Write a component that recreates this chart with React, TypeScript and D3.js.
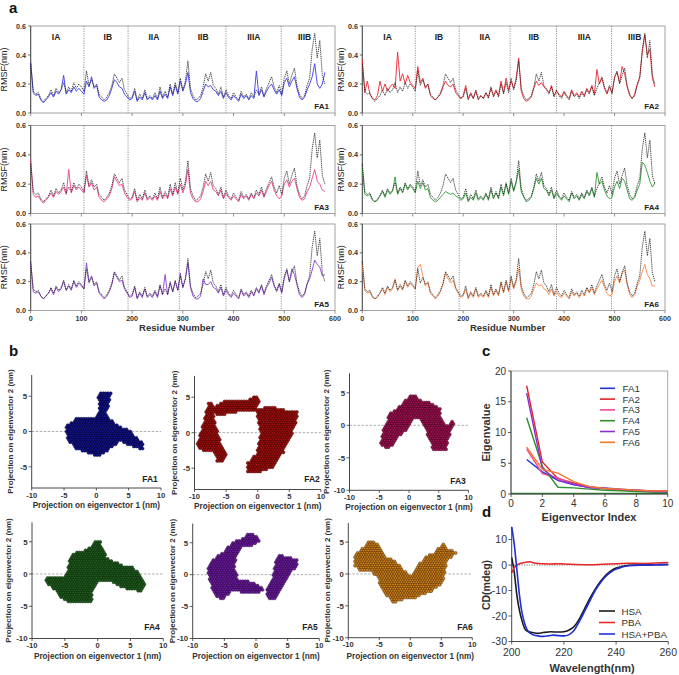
import React from "react";
import * as d3 from "d3";

const FONT = "'Liberation Sans', Arial, Helvetica, sans-serif";

// ---------- Panel a data ----------
const RESIDUE_STEP = 5;
const RESIDUE_TICKS = [0, 100, 200, 300, 400, 500, 600];
const RMSF_TICKS = [0, 0.2, 0.4, 0.6];
const DOMAIN_BOUNDS = [105, 192, 293, 385, 494];
const DOMAIN_NAMES = ["IA", "IB", "IIA", "IIB", "IIIA", "IIIB"];
const DOMAIN_CENTERS = [50, 152, 243, 340, 440, 540];

const RMSF_REF = [
  0.34,0.15,0.13,0.14,0.10,0.08,0.10,0.12,0.16,0.12,
  0.17,0.14,0.16,0.21,0.14,0.18,0.15,0.21,0.17,0.20,
  0.18,0.15,0.29,0.19,0.23,0.18,0.20,0.13,0.11,0.09,
  0.11,0.14,0.19,0.27,0.24,0.21,0.24,0.16,0.13,0.10,
  0.11,0.17,0.09,0.13,0.10,0.16,0.10,0.12,0.10,0.14,
  0.10,0.18,0.11,0.15,0.11,0.20,0.13,0.21,0.14,0.24,
  0.16,0.22,0.36,0.17,0.12,0.09,0.10,0.12,0.18,0.27,
  0.22,0.28,0.19,0.17,0.13,0.18,0.11,0.16,0.12,0.10,
  0.14,0.11,0.09,0.15,0.11,0.13,0.10,0.14,0.11,0.16,
  0.13,0.18,0.12,0.17,0.21,0.25,0.18,0.14,0.19,0.13,
  0.24,0.29,0.20,0.26,0.31,0.19,0.13,0.10,0.12,0.19,
  0.24,0.44,0.55,0.38,0.50,0.26,0.20,
];
const RMSF_FA1 = [
  0.35,0.14,0.12,0.13,0.09,0.07,0.09,0.11,0.14,0.11,
  0.15,0.13,0.16,0.26,0.13,0.16,0.14,0.18,0.15,0.17,
  0.15,0.13,0.22,0.18,0.25,0.17,0.19,0.11,0.09,0.08,
  0.09,0.12,0.17,0.23,0.21,0.18,0.17,0.13,0.11,0.09,
  0.10,0.15,0.08,0.11,0.09,0.14,0.09,0.11,0.09,0.12,
  0.09,0.15,0.10,0.13,0.10,0.18,0.12,0.19,0.13,0.22,
  0.15,0.20,0.28,0.14,0.10,0.08,0.08,0.10,0.15,0.20,
  0.18,0.19,0.16,0.15,0.12,0.15,0.10,0.14,0.11,0.09,
  0.12,0.10,0.08,0.13,0.10,0.12,0.09,0.12,0.10,0.29,
  0.12,0.16,0.11,0.15,0.18,0.20,0.16,0.13,0.16,0.12,
  0.21,0.24,0.18,0.22,0.25,0.17,0.11,0.09,0.11,0.16,
  0.20,0.25,0.34,0.20,0.17,0.20,0.28,
];
const RMSF_FA2 = [
  0.37,0.14,0.22,0.13,0.10,0.09,0.12,0.22,0.15,0.20,
  0.15,0.18,0.20,0.17,0.42,0.22,0.27,0.20,0.26,0.21,
  0.19,0.17,0.32,0.21,0.24,0.17,0.20,0.12,0.10,0.09,
  0.11,0.13,0.18,0.22,0.19,0.18,0.20,0.14,0.12,0.10,
  0.12,0.19,0.10,0.14,0.10,0.15,0.09,0.12,0.10,0.14,
  0.11,0.17,0.12,0.16,0.12,0.22,0.14,0.24,0.16,0.22,
  0.17,0.24,0.38,0.15,0.10,0.08,0.09,0.11,0.17,0.22,
  0.19,0.21,0.18,0.16,0.14,0.19,0.12,0.15,0.13,0.11,
  0.15,0.12,0.10,0.16,0.12,0.14,0.11,0.15,0.12,0.17,
  0.14,0.19,0.13,0.30,0.20,0.24,0.17,0.13,0.18,0.14,
  0.25,0.28,0.21,0.32,0.27,0.18,0.12,0.10,0.13,0.20,
  0.25,0.42,0.54,0.40,0.44,0.24,0.18,
];
const RMSF_FA3 = [
  0.37,0.13,0.11,0.12,0.09,0.07,0.09,0.11,0.14,0.11,
  0.15,0.13,0.15,0.18,0.13,0.30,0.14,0.19,0.16,0.18,
  0.16,0.14,0.26,0.18,0.21,0.16,0.18,0.11,0.09,0.08,
  0.10,0.12,0.17,0.25,0.22,0.19,0.20,0.14,0.11,0.09,
  0.10,0.15,0.08,0.11,0.09,0.14,0.09,0.11,0.09,0.12,
  0.09,0.15,0.10,0.13,0.10,0.17,0.12,0.18,0.13,0.20,
  0.14,0.19,0.30,0.14,0.10,0.08,0.08,0.10,0.15,0.22,
  0.19,0.22,0.16,0.15,0.12,0.16,0.10,0.14,0.11,0.09,
  0.12,0.10,0.08,0.13,0.10,0.12,0.09,0.13,0.10,0.14,
  0.12,0.16,0.11,0.15,0.19,0.22,0.16,0.12,0.10,0.12,
  0.20,0.23,0.18,0.22,0.24,0.17,0.11,0.09,0.10,0.15,
  0.18,0.24,0.30,0.22,0.20,0.16,0.15,
];
const RMSF_FA4 = [
  0.31,0.13,0.12,0.13,0.09,0.08,0.09,0.12,0.15,0.11,
  0.16,0.13,0.15,0.25,0.13,0.17,0.14,0.20,0.16,0.19,
  0.17,0.14,0.22,0.17,0.21,0.16,0.17,0.11,0.09,0.08,
  0.09,0.11,0.13,0.15,0.14,0.13,0.14,0.12,0.11,0.09,
  0.10,0.14,0.08,0.11,0.09,0.14,0.09,0.11,0.09,0.13,
  0.09,0.16,0.10,0.14,0.10,0.18,0.12,0.20,0.13,0.22,
  0.15,0.21,0.30,0.15,0.11,0.08,0.09,0.11,0.17,0.24,
  0.20,0.24,0.17,0.16,0.12,0.16,0.10,0.14,0.11,0.09,
  0.12,0.10,0.08,0.14,0.10,0.12,0.09,0.13,0.10,0.15,
  0.12,0.17,0.11,0.28,0.20,0.22,0.16,0.12,0.10,0.11,
  0.18,0.22,0.17,0.24,0.22,0.16,0.10,0.09,0.11,0.16,
  0.20,0.35,0.33,0.28,0.22,0.18,0.21,
];
const RMSF_FA5 = [
  0.33,0.13,0.12,0.13,0.10,0.08,0.10,0.12,0.15,0.11,
  0.16,0.13,0.15,0.20,0.14,0.17,0.14,0.20,0.16,0.19,
  0.17,0.15,0.33,0.20,0.24,0.17,0.19,0.12,0.10,0.08,
  0.10,0.13,0.18,0.26,0.23,0.20,0.21,0.15,0.12,0.09,
  0.10,0.16,0.08,0.12,0.09,0.15,0.09,0.11,0.09,0.13,
  0.09,0.17,0.11,0.25,0.11,0.19,0.13,0.20,0.14,0.26,
  0.16,0.22,0.33,0.16,0.10,0.08,0.08,0.10,0.22,0.18,
  0.18,0.20,0.16,0.15,0.12,0.16,0.10,0.14,0.11,0.09,
  0.12,0.10,0.08,0.14,0.10,0.12,0.09,0.13,0.10,0.15,
  0.12,0.17,0.11,0.16,0.19,0.23,0.17,0.13,0.18,0.12,
  0.22,0.28,0.20,0.29,0.25,0.18,0.11,0.09,0.11,0.18,
  0.22,0.28,0.35,0.32,0.30,0.24,0.25,
];
const RMSF_FA6 = [
  0.32,0.14,0.12,0.13,0.09,0.08,0.09,0.12,0.15,0.11,
  0.16,0.13,0.15,0.22,0.14,0.17,0.14,0.20,0.16,0.19,
  0.17,0.15,0.30,0.32,0.24,0.17,0.19,0.12,0.10,0.08,
  0.10,0.13,0.18,0.26,0.22,0.19,0.21,0.15,0.12,0.09,
  0.10,0.15,0.08,0.12,0.09,0.15,0.09,0.11,0.09,0.13,
  0.09,0.16,0.10,0.14,0.10,0.19,0.12,0.20,0.13,0.22,
  0.15,0.20,0.29,0.15,0.10,0.08,0.08,0.10,0.15,0.19,
  0.17,0.18,0.15,0.14,0.11,0.15,0.10,0.13,0.10,0.09,
  0.12,0.10,0.08,0.13,0.10,0.12,0.09,0.12,0.10,0.15,
  0.12,0.16,0.11,0.15,0.18,0.21,0.16,0.12,0.10,0.11,
  0.20,0.24,0.19,0.26,0.28,0.18,0.11,0.09,0.11,0.17,
  0.21,0.27,0.32,0.25,0.22,0.17,0.17,
];

// ---------- Panel b data (outlines of each projection cloud, nm) ----------
const PC_X_TICKS = [-10, -5, 0, 5, 10];
const CLOUD_FA1 = [[
  [-4.8,0.7],[-3,1.9],[0.1,2.1],[0.5,3.5],[0.2,5.3],[1.2,5.6],[2.3,5.7],[2.0,4],[1.5,2.3],
  [3.2,0.9],[5,0.2],[7.1,-1.6],[7.3,-2.6],[6,-2.3],[3.7,-1.4],[1.6,-2.8],[0.4,-3.5],
  [-1.4,-3],[-3.5,-2.3],[-4.5,-0.9],
]];
const CLOUD_FA2 = [
  [[-9.7,-1.5],[-9.1,-0.3],[-8.3,2.3],[-7.8,4.4],[-7,4.1],[-6.8,1.8],[-6,-1],[-4.9,-2.9],[-5.7,-4.1],[-6.4,-4.1],[-7,-2.7],[-9.1,-2.4]],
  [[-7.0,3.6],[-5.2,4.6],[-3.5,4.4],[-1.2,4.7],[-0.2,5.3],[0.3,4.4],[-0.2,3.0],[-2.3,3.1],[-4.4,2.7],[-6.5,2.4]],
  [[-0.2,3.2],[1.9,3.7],[4.3,3.2],[6.4,3.1],[6.2,1.8],[5.1,-1],[4,-2.9],[2.5,-4.8],[0.4,-5.5],[-1.8,-5.6],[-1.6,-4.2],[-0.2,-2.9],[0.4,-0.1]],
];
const CLOUD_FA3 = [[
  [-4.9,-3],[-4.3,-0.7],[-3.2,1.8],[-2.1,2.6],[-1,3.4],[0.2,4.7],[1,4.8],[1.8,3.9],[3.5,3.6],
  [5.2,2.6],[5.5,0.8],[6.5,0],[7.4,1.2],[7.5,0],[6.8,-1.5],[6.3,-3.8],[4.1,-4],[3.5,-2.3],
  [2.4,0.3],[1.3,1.3],[0.4,0.8],[-0.4,-0.7],[-1.5,-1.5],[-2.6,-3],[-3.7,-3.5],
]];
const CLOUD_FA4 = [[
  [-8,-0.7],[-6.5,-0.3],[-5,-0.6],[-4.7,0.1],[-4.2,2.9],[-3.2,3.5],[-1.7,3.7],[-0.4,5],[0.3,5.3],
  [0.8,4],[1.4,2.4],[2.6,1.9],[4.4,1.1],[5.4,1.1],[6.4,0.1],[7.2,-1.4],[6.9,-2.7],[5.4,-2.5],
  [3.4,-2],[1.4,-0.9],[0.1,-1.2],[-0.7,-2.5],[-0.9,-4.3],[-2.2,-4.3],[-4,-4.5],[-5.5,-3.8],
  [-6.5,-2.5],[-7.8,-1.4],
]];
const CLOUD_FA5 = [
  [[-7.7,0.7],[-6.9,2.3],[-4.8,3.9],[-3.5,5.2],[-2.1,5.7],[-1.2,6.5],[-0.6,6.6],[0.8,5.2],[-0.5,4.6],
   [-2.2,4.5],[-3.2,2.8],[-3.3,0.7],[-2.7,-0.8],[-1.1,-1.0],[0.5,-1.6],[1.1,-2.4],[0.5,-3.0],
   [-1.5,-2.8],[-3.7,-2.6],[-5.3,-3.8],[-6.4,-3.5],[-7.2,-1.5]],
  [[1.6,-3.4],[2.4,-3.9],[3.2,-3.7],[4,-2.4],[5,-0.3],[6.4,1.3],[6.6,2.3],[5,2.8],[3.7,3.1],
   [3.2,2.3],[2.6,-0.3],[1.8,-2]],
];
const CLOUD_FA6 = [[
  [-8.9,1.1],[-8.9,3],[-7.8,4],[-6.5,5.3],[-5.4,4.8],[-4.1,2.7],[-2.5,2.2],[-1.1,0.6],[0.2,-0.4],
  [1.3,1.4],[2.4,2.7],[3.7,3.2],[5.3,4.8],[5.9,4],[7.5,3.5],[6.9,2.7],[5.9,2.2],[5.3,-1.5],
  [3.2,-2.8],[0.5,-3.8],[-1.7,-4.1],[-2.7,-4.6],[-4.6,-2.5],[-5.2,-0.7],[-6.5,0.6],[-8.1,0.6],
]];

// ---------- Panel c data ----------
const EIG_INDEX = [1, 2, 3, 4, 5, 6, 7, 8, 9, 10];
const EIG_FA1 = [5.6, 3.6, 2.2, 1.5, 1.1, 0.9, 0.7, 0.5, 0.4, 0.4];
const EIG_FA2 = [17.6, 5.2, 2.5, 1.8, 1.2, 0.9, 0.7, 0.6, 0.5, 0.5];
const EIG_FA3 = [7.3, 3.3, 2.6, 1.6, 1.1, 0.9, 0.7, 0.6, 0.5, 0.4];
const EIG_FA4 = [12.4, 4.5, 1.1, 1.0, 0.8, 0.6, 0.5, 0.4, 0.3, 0.3];
const EIG_FA5 = [16.4, 4.1, 2.2, 1.6, 1.0, 1.0, 0.8, 0.6, 0.4, 0.3];
const EIG_FA6 = [7.6, 4.0, 3.4, 2.0, 1.2, 0.9, 0.8, 0.6, 0.5, 0.5];
const EIG_X_TICKS = [0, 2, 4, 6, 8, 10];
const EIG_Y_TICKS = [0, 5, 10, 15, 20];

// ---------- Panel d data ----------
const CD_HSA_WL = [200,201,202,203,204,205,206,208,210,212,215,218,220,222,224,226,228,230,232,234,236,238,240,242,245,250,255,260];
const CD_HSA = [3,-3,-12,-18,-22,-25,-26,-26.5,-26.8,-26.5,-26.2,-26.3,-26.2,-25.5,-24,-21,-17,-13,-9.5,-6.5,-4,-2.3,-1.2,-0.6,-0.1,0,0.1,0.2];
const CD_MIX_WL = [200,201,202,203,204,205,206,208,210,212,214,216,218,220,222,224,226,228,230,232,234,236,238,240,242,245,250,255,260];
const CD_MIX = [15,8,-2,-12,-19,-23,-25.5,-27.3,-27.8,-28,-27.8,-27.5,-27.7,-27.8,-27.3,-25.5,-22,-18,-14,-10,-7,-4.5,-2.8,-1.6,-0.9,-0.3,0,0.1,0.2];
const CD_PBA_WL = [200,201,202,204,206,207,208,210,212,215,218,220,225,230,235,240,245,250,255,260];
const CD_PBA = [-3,-1,0,0.8,1.2,1.3,1.0,0.6,0.5,0.4,0.5,0.4,0.2,0.1,0.3,0.5,0.7,0.6,0.8,1.0];
const CD_X_TICKS = [200, 220, 240, 260];
const CD_Y_TICKS = [-30, -20, -10, 0, 10];

// ---------- Layout ----------
const A_COLS = [{ x0: 30.7, x1: 335, yLab: 7, tickLabX: 27 }, { x0: 362.3, x1: 665, yLab: 344, tickLabX: 359 }];
const A_ROWS = [{ top: 26, bottom: 113 }, { top: 125.5, bottom: 213.5 }, { top: 224, bottom: 310.5 }];
const A_PANELS = [
  { name: "FA1", data: RMSF_FA1, color: "#3a3ae6", col: 0, row: 0 },
  { name: "FA2", data: RMSF_FA2, color: "#ec2630", col: 1, row: 0 },
  { name: "FA3", data: RMSF_FA3, color: "#ec3f8f", col: 0, row: 1 },
  { name: "FA4", data: RMSF_FA4, color: "#2f9a35", col: 1, row: 1 },
  { name: "FA5", data: RMSF_FA5, color: "#8c3fcc", col: 0, row: 2 },
  { name: "FA6", data: RMSF_FA6, color: "#f8874a", col: 1, row: 2 },
];

const B_PANELS = [
  { name: "FA1", polys: CLOUD_FA1, fill: "#14148c", stroke: "#00002a", x0: 31.7, x1: 161, yMin: -8, yMax: 8, yTop: 375, yBot: 488, yTitleX: 12.7, lab: [150, 482], yTicks: [-5, 0, 5], titleY: 507.5 },
  { name: "FA2", polys: CLOUD_FA2, fill: "#a3120f", stroke: "#3a0000", x0: 194.5, x1: 320.9, yMin: -8, yMax: 8, yTop: 375.9, yBot: 489.5, yTitleX: 176.7, lab: [312, 482], yTicks: [-5, 0, 5], titleY: 508.5 },
  { name: "FA3", polys: CLOUD_FA3, fill: "#a11454", stroke: "#3a0018", x0: 349.5, x1: 468.5, yMin: -10, yMax: 8, yTop: 373.3, yBot: 490.3, yTitleX: 329, lab: [458, 484], yTicks: [-10, -5, 0, 5], titleY: 509.5 },
  { name: "FA4", polys: CLOUD_FA4, fill: "#22601f", stroke: "#082008", x0: 32, x1: 163.3, yMin: -10, yMax: 8, yTop: 522.4, yBot: 638.5, yTitleX: 10.5, lab: [152, 630], yTicks: [-10, -5, 0, 5], titleY: 658.5 },
  { name: "FA5", polys: CLOUD_FA5, fill: "#6e1ca0", stroke: "#24063a", x0: 192.7, x1: 319.3, yMin: -10, yMax: 8, yTop: 523.6, yBot: 638.5, yTitleX: 175, lab: [310, 630], yTicks: [-10, -5, 0, 5], titleY: 658.5 },
  { name: "FA6", polys: CLOUD_FA6, fill: "#d0821e", stroke: "#4a2a00", x0: 348.3, x1: 472.3, yMin: -10, yMax: 8, yTop: 523, yBot: 637.7, yTitleX: 329.5, lab: [465, 630], yTicks: [-10, -5, 0, 5], titleY: 658.5 },
];

const C_SERIES = [
  { name: "FA1", data: EIG_FA1, color: "#1f34d6" },
  { name: "FA2", data: EIG_FA2, color: "#e32222" },
  { name: "FA3", data: EIG_FA3, color: "#ef4a95" },
  { name: "FA4", data: EIG_FA4, color: "#2e8f2e" },
  { name: "FA5", data: EIG_FA5, color: "#8a2fd6" },
  { name: "FA6", data: EIG_FA6, color: "#f5772e" },
];
const D_SERIES = [
  { name: "HSA", wl: CD_HSA_WL, v: CD_HSA, color: "#1a1a1a" },
  { name: "PBA", wl: CD_PBA_WL, v: CD_PBA, color: "#e8282b" },
  { name: "HSA+PBA", wl: CD_MIX_WL, v: CD_MIX, color: "#1f2fd8" },
];

function lattice(polys: number[][][], sx: any, sy: any, step: number) {
  const pix = polys.map((p) => p.map(([x, y]) => [sx(x), sy(y)] as [number, number]));
  const all = pix.flat();
  const [minX, maxX] = d3.extent(all, (d) => d[0]) as [number, number];
  const [minY, maxY] = d3.extent(all, (d) => d[1]) as [number, number];
  const pts: [number, number][] = [];
  let row = 0;
  for (let y = minY; y <= maxY; y += step * 0.866, row++) {
    for (let x = minX + (row % 2 ? step / 2 : 0); x <= maxX; x += step) {
      if (pix.some((pp) => d3.polygonContains(pp, [x, y]))) pts.push([x, y]);
    }
  }
  return pts;
}

function PanelA() {
  const out: any[] = [];
  A_PANELS.forEach((p, k) => {
    const c = A_COLS[p.col];
    const r = A_ROWS[p.row];
    const x = d3.scaleLinear().domain([0, 600]).range([c.x0, c.x1]);
    const y = d3.scaleLinear().domain([0, 0.6]).range([r.bottom, r.top]);
    const line = d3.line<number>().x((_, i) => x(i * RESIDUE_STEP)).y((d) => y(d));
    out.push(
      <g key={"a" + k}>
        <rect x={c.x0} y={r.top} width={c.x1 - c.x0} height={r.bottom - r.top} fill="none" stroke="#9a9a9a" strokeWidth={0.9} />
        <line x1={c.x0} x2={c.x0} y1={r.top} y2={r.bottom} stroke="#444" strokeWidth={0.9} />
        {DOMAIN_BOUNDS.map((b, i) => (
          <line key={i} x1={x(b)} x2={x(b)} y1={r.top} y2={r.bottom} stroke="#666" strokeWidth={0.7} strokeDasharray="1.2,1.2" />
        ))}
        {RMSF_TICKS.map((t) => (
          <g key={t}>
            <line x1={c.x0 - 2.5} x2={c.x0} y1={y(t)} y2={y(t)} stroke="#444" strokeWidth={0.8} />
            <text x={c.tickLabX - 1} y={y(t) + 2.6} fontSize={7.2} fontWeight="bold" textAnchor="end" fill="#333">{t.toFixed(1)}</text>
          </g>
        ))}
        {RESIDUE_TICKS.map((t) => (
          <line key={t} x1={x(t)} x2={x(t)} y1={r.bottom} y2={r.bottom + 3} stroke="#777" strokeWidth={0.8} />
        ))}
        {p.row === 2 && RESIDUE_TICKS.map((t) => (
          <text key={"l" + t} x={x(t)} y={r.bottom + 10.5} fontSize={7.2} fontWeight="bold" textAnchor="middle" fill="#333">{t}</text>
        ))}
        {p.row === 0 && DOMAIN_NAMES.map((n, i) => (
          <text key={n} x={x(DOMAIN_CENTERS[i])} y={r.top + 14} fontSize={8.5} fontWeight="bold" textAnchor="middle" fill="#222">{n}</text>
        ))}
        <path d={line(p.data) || ""} fill="none" stroke={p.color} strokeWidth={0.9} strokeLinejoin="round" />
        <path d={line(RMSF_REF) || ""} fill="none" stroke="#1a1a1a" strokeWidth={0.8} strokeDasharray="1.3,0.8" />
        <text x={c.x1 - 6} y={r.bottom - 4} fontSize={8} fontWeight="bold" textAnchor="end" fill="#222">{p.name}</text>
        <text transform={`translate(${c.yLab},${(r.top + r.bottom) / 2}) rotate(-90)`} fontSize={9} textAnchor="middle" fill="#222">RMSF(nm)</text>
      </g>
    );
  });
  A_COLS.forEach((c, i) => {
    out.push(
      <text key={"rn" + i} x={(c.x0 + c.x1) / 2 - 6} y={331} fontSize={9.5} fontWeight="bold" textAnchor="middle" fill="#333">Residue Number</text>
    );
  });
  return <g>{out}</g>;
}

function PanelB() {
  return (
    <g>
      {B_PANELS.map((p, k) => {
        const x = d3.scaleLinear().domain([-10, 10]).range([p.x0, p.x1]);
        const y = d3.scaleLinear().domain([p.yMin, p.yMax]).range([p.yBot, p.yTop]);
        const pts = lattice(p.polys, x, y, 2.45);
        return (
          <g key={k}>
            <line x1={p.x0} x2={p.x1} y1={y(0)} y2={y(0)} stroke="#9a9a9a" strokeWidth={0.8} strokeDasharray="2.5,1.5" />
            {pts.map((d, i) => (
              <circle key={i} cx={d[0]} cy={d[1]} r={1.55} fill={p.fill} stroke={p.stroke} strokeWidth={0.5} />
            ))}
            <line x1={p.x0} x2={p.x0} y1={p.yTop} y2={p.yBot} stroke="#333" strokeWidth={0.9} />
            <line x1={p.x0} x2={p.x1} y1={p.yBot} y2={p.yBot} stroke="#333" strokeWidth={0.9} />
            {p.yTicks.map((t) => (
              <g key={t}>
                <line x1={p.x0 - 3} x2={p.x0} y1={y(t)} y2={y(t)} stroke="#333" strokeWidth={0.8} />
                <text x={p.x0 - 4.5} y={y(t) + 2.8} fontSize={7.8} fontWeight="bold" textAnchor="end" fill="#333">{t}</text>
              </g>
            ))}
            {PC_X_TICKS.map((t) => (
              <g key={"x" + t}>
                <line x1={x(t)} x2={x(t)} y1={p.yBot} y2={p.yBot + 2.5} stroke="#333" strokeWidth={0.8} />
                <text x={x(t)} y={p.yBot + 9.5} fontSize={7.6} fontWeight="bold" textAnchor="middle" fill="#333">{t}</text>
              </g>
            ))}
            <text x={p.lab[0]} y={p.lab[1]} fontSize={8.5} fontWeight="bold" textAnchor="middle" fill="#222">{p.name}</text>
            <text x={(p.x0 + p.x1) / 2} y={p.titleY} fontSize={8.2} fontWeight="bold" textAnchor="middle" fill="#333">Projection on eigenvector 1 (nm)</text>
            <text transform={`translate(${p.yTitleX},${(p.yTop + p.yBot) / 2}) rotate(-90)`} fontSize={8} fontWeight="bold" textAnchor="middle" fill="#333">Projection on eigenvector 2 (nm)</text>
          </g>
        );
      })}
    </g>
  );
}

function PanelC() {
  const x = d3.scaleLinear().domain([0, 10]).range([511, 667.7]);
  const y = d3.scaleLinear().domain([0, 20]).range([494, 371]);
  const line = d3.line<number>().x((_, i) => x(EIG_INDEX[i])).y((d) => y(d));
  return (
    <g>
      <rect x={511} y={371} width={156.7} height={123} fill="none" stroke="#a0a0a0" strokeWidth={0.9} />
      {C_SERIES.map((s) => (
        <path key={s.name} d={line(s.data) || ""} fill="none" stroke={s.color} strokeWidth={1.4} />
      ))}
      <line x1={511} x2={667.7} y1={y(0.1)} y2={y(0.1)} stroke="#2e8f2e" strokeWidth={1.2} />
      <line x1={511} x2={511} y1={371} y2={494} stroke="#333" strokeWidth={0.9} />
      <line x1={511} x2={667.7} y1={494} y2={494} stroke="#333" strokeWidth={0.9} />
      {EIG_Y_TICKS.map((t) => (
        <g key={t}>
          <line x1={508} x2={511} y1={y(t)} y2={y(t)} stroke="#333" strokeWidth={0.8} />
          <text x={506} y={y(t) + 3.5} fontSize={10} textAnchor="end" fill="#333">{t}</text>
        </g>
      ))}
      {EIG_X_TICKS.map((t) => (
        <g key={"x" + t}>
          <line x1={x(t)} x2={x(t)} y1={494} y2={497} stroke="#333" strokeWidth={0.8} />
          <text x={x(t)} y={507} fontSize={10} textAnchor="middle" fill="#333">{t}</text>
        </g>
      ))}
      {C_SERIES.map((s, i) => (
        <g key={"lg" + s.name}>
          <line x1={600} x2={615} y1={388.3 + i * 10.8} y2={388.3 + i * 10.8} stroke={s.color} strokeWidth={1.6} />
          <text x={622.5} y={388.3 + i * 10.8 + 3.5} fontSize={9.8} fill="#333">{s.name}</text>
        </g>
      ))}
      <text x={589} y={521} fontSize={11} fontWeight="bold" textAnchor="middle" fill="#333">Eigenvector Index</text>
      <text transform="translate(490,432.5) rotate(-90)" fontSize={11} fontWeight="bold" textAnchor="middle" fill="#333">Eigenvalue</text>
    </g>
  );
}

function PanelD() {
  const x = d3.scaleLinear().domain([200, 260]).range([511.7, 668.3]);
  const y = d3.scaleLinear().domain([-30, 15]).range([641.5, 526.8]);
  return (
    <g>
      <line x1={511.7} x2={668.3} y1={y(0)} y2={y(0)} stroke="#333" strokeWidth={0.8} strokeDasharray="1,1.5" />
      {D_SERIES.map((s) => {
        const line = d3.line<number>().x((_, i) => x(s.wl[i])).y((d) => y(d)).curve(d3.curveMonotoneX);
        return <path key={s.name} d={line(s.v) || ""} fill="none" stroke={s.color} strokeWidth={1.6} />;
      })}
      <line x1={511.7} x2={511.7} y1={526.8} y2={641.5} stroke="#333" strokeWidth={0.9} />
      <line x1={511.7} x2={668.3} y1={641.5} y2={641.5} stroke="#333" strokeWidth={0.9} />
      {CD_Y_TICKS.map((t) => (
        <g key={t}>
          <line x1={508.5} x2={511.7} y1={y(t)} y2={y(t)} stroke="#333" strokeWidth={0.8} />
          <text x={507} y={y(t) + 3.8} fontSize={10.5} textAnchor="end" fill="#333">{t}</text>
        </g>
      ))}
      {CD_X_TICKS.map((t) => (
        <g key={"x" + t}>
          <line x1={x(t)} x2={x(t)} y1={641.5} y2={644.5} stroke="#333" strokeWidth={0.8} />
          <text x={x(t)} y={655.5} fontSize={10.5} textAnchor="middle" fill="#333">{t}</text>
        </g>
      ))}
      {D_SERIES.map((s, i) => (
        <g key={"lg" + s.name}>
          <line x1={599} x2={615} y1={611 + i * 11.5} y2={611 + i * 11.5} stroke={s.color} strokeWidth={1.6} />
          <text x={621.5} y={611 + i * 11.5 + 3.5} fontSize={9.8} fill="#333">{s.name}</text>
        </g>
      ))}
      <text x={592} y={672} fontSize={11} fontWeight="bold" textAnchor="middle" fill="#333">Wavelength(nm)</text>
      <text transform="translate(490,585) rotate(-90)" fontSize={10.5} fontWeight="bold" textAnchor="middle" fill="#333">CD(mdeg)</text>
    </g>
  );
}

export default function App() {
  return (
    <svg width={679} height={675} style={{ position: "absolute", left: 0, top: 0, background: "#fff" }} fontFamily={FONT}>
      <rect x={0} y={0} width={679} height={675} fill="#fff" />
      <text x={9} y={13} fontSize={15} fontWeight="bold" fill="#111">a</text>
      <text x={9} y={356} fontSize={15} fontWeight="bold" fill="#111">b</text>
      <text x={482} y={356} fontSize={15} fontWeight="bold" fill="#111">c</text>
      <text x={482} y={517} fontSize={15} fontWeight="bold" fill="#111">d</text>
      <PanelA />
      <PanelB />
      <PanelC />
      <PanelD />
    </svg>
  );
}
